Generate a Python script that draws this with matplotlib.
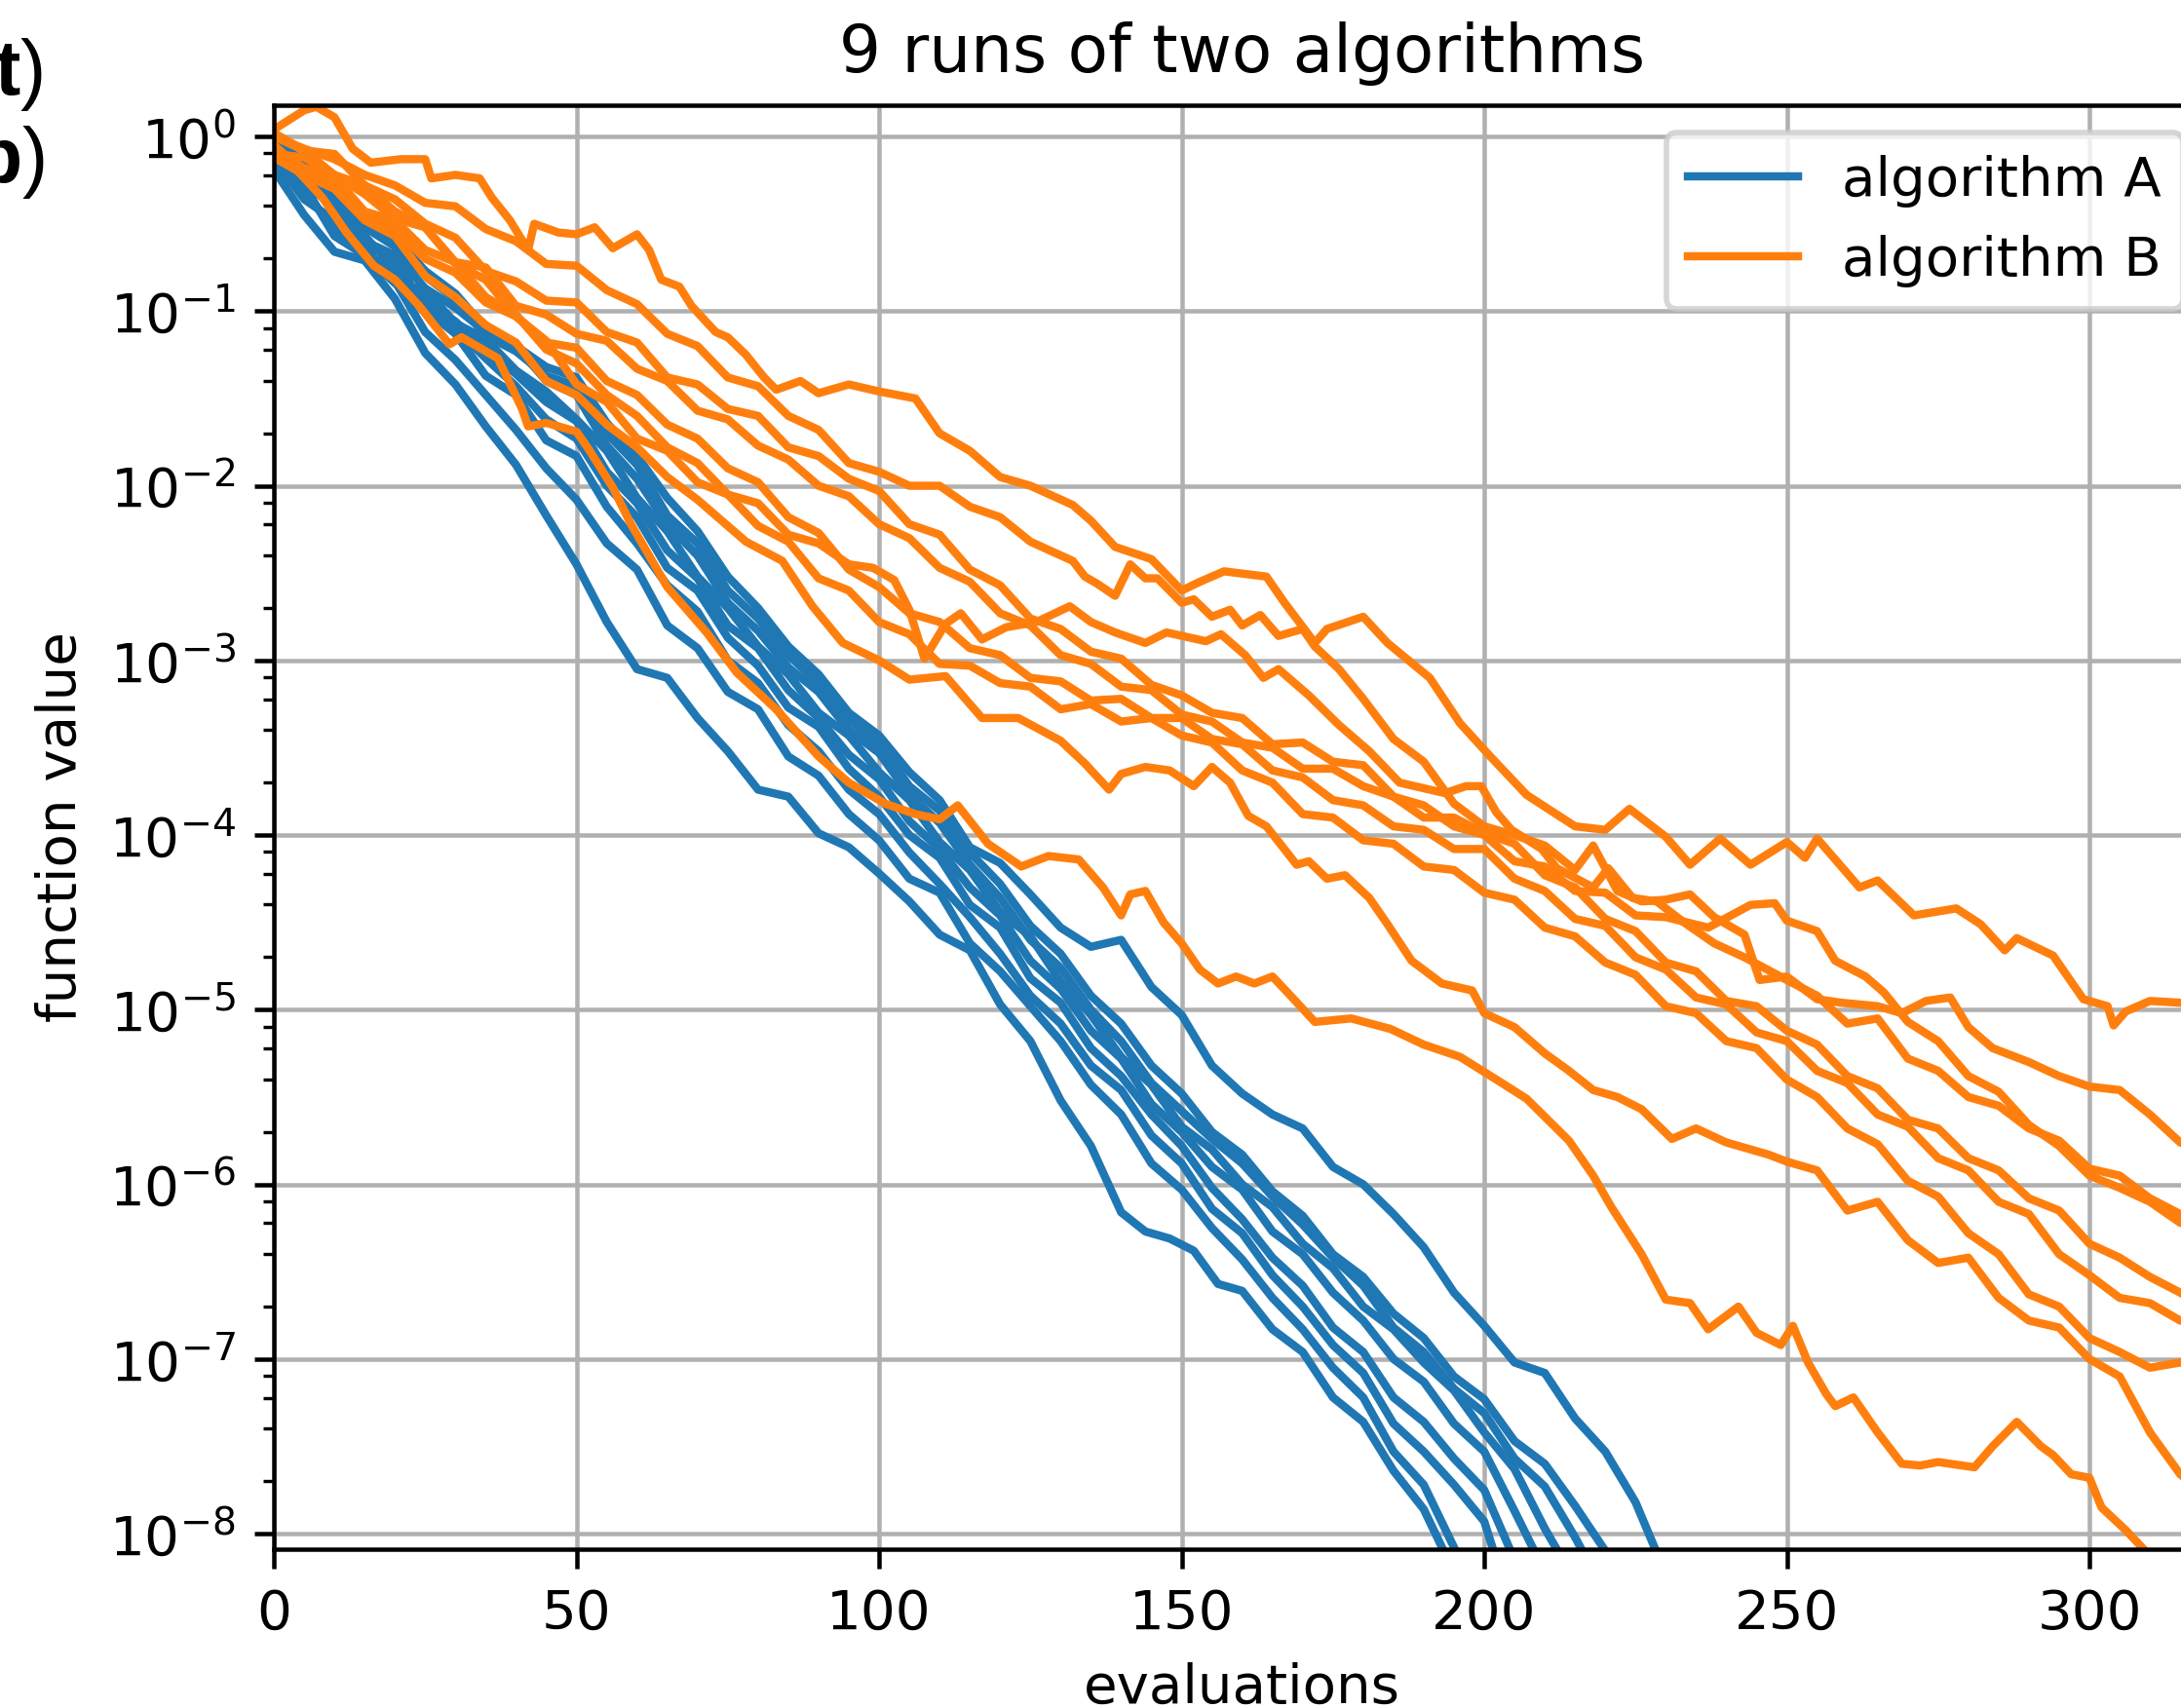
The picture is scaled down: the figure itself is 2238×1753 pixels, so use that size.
import numpy as np
import matplotlib.pyplot as plt
from matplotlib.ticker import LogLocator, NullFormatter

# runs of algorithm A (evaluations, log10 of function value)
a1_x = list(range(0, 141, 5)) + [144, 148, 152, 156] + list(range(160, 191, 5)) + [194]
a1_y = [-0.19, -0.45, -0.66, -0.71, -0.93, -1.24, -1.42, -1.66, -1.88, -2.17,
        -2.45, -2.78, -3.05, -3.1, -3.33, -3.52, -3.74, -3.78, -3.99, -4.07,
        -4.22, -4.38, -4.57, -4.66, -4.97, -5.18, -5.52, -5.78, -6.16, -6.27,
        -6.31, -6.38, -6.57, -6.61, -6.83, -6.96, -7.22, -7.36, -7.64, -7.86, -8.15]
a2_x = list(range(0, 191, 5)) + [196]
a2_y = [-0.1, -0.32, -0.52, -0.64, -0.83, -1.12, -1.28, -1.48, -1.68, -1.9,
        -2.08, -2.33, -2.48, -2.8, -2.93, -3.18, -3.28, -3.55, -3.66, -3.88,
        -4.03, -4.25, -4.33, -4.62, -4.78, -4.98, -5.18, -5.43, -5.6, -5.88,
        -6.03, -6.25, -6.43, -6.65, -6.83, -7.05, -7.22, -7.53, -7.72, -8.15]
a3_x = list(range(0, 201, 5)) + [202]
a3_y = [-0.05, -0.27, -0.4, -0.62, -0.7, -0.99, -1.13, -1.37, -1.48, -1.74,
        -1.83, -2.12, -2.33, -2.57, -2.72, -3.0, -3.13, -3.37, -3.52, -3.74,
        -3.88, -4.1, -4.28, -4.47, -4.68, -4.92, -5.08, -5.32, -5.46, -5.72,
        -5.88, -6.14, -6.28, -6.52, -6.7, -6.92, -7.08, -7.37, -7.53, -7.72,
        -7.93, -8.15]
a4_x = list(range(0, 206, 5))
a4_y = [-0.12, -0.36, -0.48, -0.67, -0.78, -0.97, -1.1, -1.27, -1.43, -1.62,
        -1.73, -2.0, -2.18, -2.47, -2.6, -2.87, -3.03, -3.27, -3.38, -3.62,
        -3.78, -4.0, -4.13, -4.4, -4.53, -4.82, -4.96, -5.22, -5.38, -5.6,
        -5.78, -6.02, -6.2, -6.42, -6.58, -6.82, -6.96, -7.22, -7.36, -7.57,
        -7.75, -8.15]
a5_x = list(range(0, 206, 5)) + [209]
a5_y = [-0.08, -0.22, -0.36, -0.57, -0.76, -0.94, -1.06, -1.22, -1.36, -1.52,
        -1.63, -1.92, -2.1, -2.37, -2.53, -2.8, -2.93, -3.17, -3.33, -3.54,
        -3.68, -3.92, -4.08, -4.3, -4.46, -4.72, -4.88, -5.12, -5.28, -5.54,
        -5.7, -5.9, -6.03, -6.27, -6.4, -6.62, -6.78, -7.0, -7.13, -7.37,
        -7.53, -7.87, -8.15]
a6_x = list(range(0, 211, 5)) + [213]
a6_y = [-0.15, -0.28, -0.57, -0.68, -0.84, -0.88, -1.07, -1.16, -1.34, -1.46,
        -1.62, -1.8, -2.07, -2.26, -2.52, -2.7, -2.92, -3.08, -3.3, -3.43,
        -3.64, -3.8, -4.04, -4.2, -4.44, -4.58, -4.84, -5.03, -5.27, -5.43,
        -5.67, -5.8, -6.0, -6.13, -6.34, -6.48, -6.7, -6.83, -7.02, -7.18,
        -7.42, -7.63, -7.97, -8.15]
a7_x = list(range(0, 216, 5)) + [217]
a7_y = [0.0, -0.2, -0.3, -0.5, -0.58, -0.77, -0.9, -1.1, -1.2, -1.4,
        -1.48, -1.77, -1.96, -2.22, -2.4, -2.67, -2.83, -3.04, -3.18, -3.4,
        -3.53, -3.77, -3.93, -4.17, -4.36, -4.6, -4.76, -5.0, -5.18, -5.42,
        -5.58, -5.74, -5.88, -6.07, -6.23, -6.42, -6.58, -6.82, -6.96, -7.17,
        -7.31, -7.57, -7.73, -8.02, -8.15]
a8_x = list(range(0, 216, 5)) + [221]
a8_y = [-0.03, -0.14, -0.33, -0.52, -0.63, -0.8, -0.93, -1.14, -1.23, -1.37,
        -1.43, -1.7, -1.88, -2.17, -2.33, -2.6, -2.76, -2.97, -3.13, -3.34,
        -3.48, -3.72, -3.86, -4.1, -4.28, -4.52, -4.68, -4.92, -5.08, -5.32,
        -5.48, -5.7, -5.83, -6.04, -6.18, -6.4, -6.53, -6.74, -6.88, -7.1,
        -7.23, -7.47, -7.6, -7.84, -8.15]
a9_x = list(range(0, 226, 5)) + [229]
a9_y = [-0.1, -0.27, -0.38, -0.6, -0.68, -0.87, -0.98, -1.12, -1.2, -1.32,
        -1.38, -1.64, -1.83, -2.07, -2.26, -2.52, -2.7, -2.92, -3.08, -3.3,
        -3.43, -3.64, -3.8, -4.07, -4.16, -4.34, -4.53, -4.64, -4.6, -4.87,
        -5.03, -5.32, -5.48, -5.6, -5.68, -5.9, -6.0, -6.17, -6.36, -6.62,
        -6.81, -7.02, -7.08, -7.34, -7.53, -7.82, -8.15]

# runs of algorithm B
b1_x = [0, 5, 7, 10, 13, 16, 21, 25, 26, 30, 34, 36, 39, 42, 43, 47, 50, 53, 56, 60,
        62, 64, 67, 69, 73, 75, 78, 81, 83, 87, 90, 95, 100, 106, 110, 115, 120, 125, 132, 135,
        139, 145, 150, 153, 157, 164, 167, 172, 174, 180, 184, 191, 196, 201, 207, 215, 220, 224, 230, 234,
        239, 244, 250, 253, 255, 262, 265, 271, 278, 282, 286, 288, 294, 299, 303, 304, 306, 310, 315, 320]
b1_y = [0.04, 0.15, 0.17, 0.11, -0.07, -0.15, -0.13, -0.13, -0.24, -0.22,
        -0.24, -0.35, -0.48, -0.65, -0.5, -0.55, -0.56, -0.52, -0.64, -0.56,
        -0.65, -0.82, -0.86, -0.97, -1.12, -1.15, -1.25, -1.38, -1.45, -1.4,
        -1.47, -1.42, -1.46, -1.5, -1.7, -1.8, -1.95, -2.0, -2.11, -2.2,
        -2.35, -2.42, -2.6, -2.55, -2.49, -2.52, -2.67, -2.9, -2.82, -2.75,
        -2.9, -3.1, -3.36, -3.55, -3.77, -3.95, -3.97, -3.85, -4.01, -4.17,
        -4.02, -4.17, -4.04, -4.13, -4.02, -4.3, -4.26, -4.46, -4.42, -4.51,
        -4.66, -4.59, -4.69, -4.94, -4.98, -5.09, -5.01, -4.95, -4.96, -4.98]
b2_x = list(range(0, 126, 5)) + [132, 134, 136, 139, 141.5, 144, 146, 150, 152, 155,
                                 158, 160, 163, 166, 170, 172, 176, 180, 185, 190,
                                 195, 200, 205, 210, 215, 218, 222, 226, 230, 234,
                                 238, 243, 245.5, 250, 255, 259, 265, 269, 273, 277,
                                 280, 284, 290, 295, 300, 305, 310, 315, 320]
b2_y = [0.0, -0.07, -0.13, -0.22, -0.28, -0.38, -0.4, -0.53, -0.6, -0.73,
        -0.74, -0.88, -0.96, -1.13, -1.2, -1.38, -1.43, -1.6, -1.68, -1.87,
        -1.92, -2.0, -2.0, -2.12, -2.18, -2.32,
        -2.43, -2.52, -2.56, -2.63, -2.45, -2.53, -2.53, -2.67, -2.65, -2.75,
        -2.71, -2.8, -2.74, -2.86, -2.82, -2.92, -3.05, -3.22, -3.45, -3.58,
        -3.82, -3.95, -4.0, -4.06, -4.2, -4.06, -4.32, -4.38, -4.37, -4.34,
        -4.47, -4.57, -4.83, -4.81, -4.94, -4.96, -4.98, -5.02, -4.95, -4.93,
        -5.1, -5.22, -5.3, -5.38, -5.44, -5.46, -5.6, -5.76, -5.82]
b3_x = list(range(0, 96, 5)) + [99, 102.5, 105, 107.5, 111, 113.5, 117, 121, 126, 131.5,
                                135, 139, 144, 147.5, 154, 156.5, 160.5, 163.5, 166, 171,
                                176, 181, 186, 191, 193.5, 197, 199.5, 202, 204.5, 209.5,
                                212, 218, 220.5, 224.5, 228.5, 233, 238, 243, 250, 255,
                                260, 265, 270, 275, 280, 285, 290, 295, 300, 305,
                                310, 315, 320]
b3_y = [-0.08, -0.18, -0.23, -0.43, -0.48, -0.65, -0.72, -0.92, -1.02, -1.22,
        -1.3, -1.48, -1.6, -1.78, -1.87, -2.05, -2.1, -2.28, -2.33, -2.45,
        -2.47, -2.54, -2.71, -2.99, -2.79, -2.73, -2.88, -2.81, -2.78, -2.69,
        -2.78, -2.84, -2.9, -2.84, -2.89, -2.85, -2.97, -3.1, -3.05, -3.2,
        -3.37, -3.52, -3.7, -3.74, -3.76, -3.72, -3.72, -3.87, -3.97, -4.08,
        -4.19, -4.3, -4.19, -4.36, -4.38, -4.5, -4.62, -4.7, -4.83, -4.92,
        -5.08, -5.05, -5.28, -5.35, -5.5, -5.55, -5.68, -5.75, -5.91, -5.95,
        -6.08, -6.17, -6.22]
b4_x = list(range(0, 231, 5)) + [237, 244, 248, 250, 255, 258, 263, 266, 270, 275,
                                 280, 285, 290, 295, 300, 305, 310, 315, 320]
b4_y = [0.02, -0.08, -0.1, -0.28, -0.36, -0.5, -0.58, -0.77, -0.83, -0.94,
        -0.95, -1.12, -1.18, -1.38, -1.42, -1.56, -1.6, -1.78, -1.83, -1.96,
        -2.03, -2.22, -2.28, -2.48, -2.57, -2.76, -2.82, -2.95, -2.99, -3.14,
        -3.2, -3.3, -3.33, -3.48, -3.47, -3.58, -3.6, -3.78, -3.83, -3.95,
        -4.0, -4.15, -4.18, -4.32, -4.33, -4.46, -4.47,
        -4.53, -4.4, -4.39, -4.49, -4.55, -4.72, -4.81, -4.9, -5.07, -5.18,
        -5.38, -5.47, -5.66, -5.78, -5.95, -6.02, -6.1, -6.22, -6.25]
b5_x = list(range(0, 321, 5))
b5_y = [-0.1, -0.12, -0.22, -0.33, -0.47, -0.52, -0.72, -0.75, -0.97, -1.02,
        -1.13, -1.17, -1.33, -1.4, -1.57, -1.62, -1.77, -1.85, -2.0, -2.06,
        -2.22, -2.3, -2.47, -2.55, -2.73, -2.8, -2.97, -3.02, -3.15, -3.17,
        -3.31, -3.35, -3.47, -3.5, -3.62, -3.62, -3.72, -3.78, -3.9, -3.9,
        -3.99, -4.05, -4.23, -4.3, -4.48, -4.55, -4.73, -4.78, -4.95, -4.98,
        -5.12, -5.2, -5.38, -5.45, -5.63, -5.68, -5.85, -5.92, -6.08, -6.15,
        -6.34, -6.42, -6.53, -6.62, -6.72]
b6_x = list(range(0, 321, 5))
b6_y = [-0.05, -0.2, -0.28, -0.45, -0.53, -0.7, -0.78, -0.95, -1.03, -1.18,
        -1.21, -1.4, -1.48, -1.65, -1.73, -1.9, -1.98, -2.18, -2.27, -2.48,
        -2.58, -2.73, -2.78, -2.93, -2.97, -3.1, -3.12, -3.23, -3.22, -3.33,
        -3.33, -3.45, -3.48, -3.63, -3.67, -3.8, -3.83, -3.95, -3.97, -4.08,
        -4.08, -4.25, -4.32, -4.48, -4.52, -4.7, -4.77, -4.93, -4.97, -5.13,
        -5.18, -5.35, -5.42, -5.6, -5.67, -5.85, -5.92, -6.1, -6.17, -6.4,
        -6.52, -6.65, -6.68, -6.78, -6.8]
b7_x = list(range(0, 321, 5))
b7_y = [0.0, -0.08, -0.22, -0.28, -0.43, -0.52, -0.73, -0.82, -1.03, -1.17,
        -1.42, -1.52, -1.73, -1.8, -1.98, -2.05, -2.23, -2.32, -2.53, -2.6,
        -2.78, -2.85, -3.02, -3.03, -3.13, -3.15, -3.28, -3.25, -3.35, -3.33,
        -3.43, -3.47, -3.63, -3.7, -3.88, -3.9, -4.03, -4.05, -4.18, -4.2,
        -4.33, -4.37, -4.53, -4.58, -4.73, -4.8, -4.98, -5.02, -5.18, -5.22,
        -5.4, -5.5, -5.68, -5.77, -5.98, -6.07, -6.28, -6.4, -6.63, -6.7,
        -6.88, -6.96, -7.05, -7.02, -7.05]
b8_x = [0, 5, 10, 15, 20, 25, 30, 35, 40, 45, 50, 55, 60, 65, 70, 74, 78, 84, 89, 94,
        100, 105, 111, 117, 123, 130, 134, 138, 140, 144, 148, 152, 155, 158, 161, 164, 169, 171, 174, 177,
        181, 184, 188, 193, 198, 200, 205, 210, 214, 218, 222, 226, 231, 235, 240, 247, 250, 255, 260, 265,
        270, 275, 280, 285, 290, 295, 300, 305, 310, 315, 320]
b8_y = [-0.12, -0.22, -0.3, -0.48, -0.57, -0.8, -0.92, -1.08, -1.18, -1.4,
        -1.48, -1.65, -1.78, -1.95, -2.08, -2.2, -2.32, -2.43, -2.69, -2.9,
        -3.0, -3.11, -3.09, -3.33, -3.33, -3.46, -3.59, -3.74, -3.65, -3.61,
        -3.63, -3.72, -3.61, -3.7, -3.89, -3.95, -4.17, -4.15, -4.25, -4.23,
        -4.36, -4.51, -4.72, -4.85, -4.89, -5.02, -5.1, -5.25, -5.35, -5.46,
        -5.5, -5.57, -5.74, -5.68, -5.76, -5.83, -5.87, -5.92, -6.15, -6.1,
        -6.32, -6.45, -6.42, -6.65, -6.78, -6.82, -7.0, -7.1, -7.42, -7.66,
        -7.8]
b9_x = [0, 4, 8, 12, 16.5, 20, 24, 29, 31, 37, 41, 42, 45, 50, 52, 56, 59, 65, 71.5, 76.5,
        83, 90, 95, 101, 106, 110, 113, 118, 123.5, 128, 133, 137, 140, 141.5, 144, 147, 150, 153, 156, 159,
        162, 165, 168, 172, 178, 184.5, 190, 196, 202, 207, 214, 218, 221, 226, 230, 234, 237, 242, 245, 249,
        251, 253.5, 256.5, 258, 261, 265, 269, 272, 275, 281, 284, 288, 292, 294, 297, 300, 302, 306, 309, 311]
b9_y = [-0.05, -0.2, -0.35, -0.55, -0.74, -0.82, -0.97, -1.19, -1.15, -1.27,
        -1.56, -1.66, -1.64, -1.69, -1.79, -2.01, -2.22, -2.58, -2.84, -3.07,
        -3.28, -3.55, -3.7, -3.82, -3.88, -3.91, -3.83, -4.05, -4.18, -4.12,
        -4.14, -4.3, -4.46, -4.34, -4.32, -4.5, -4.62, -4.77, -4.85, -4.81,
        -4.85, -4.81, -4.92, -5.07, -5.05, -5.11, -5.2, -5.27, -5.4, -5.51,
        -5.75, -5.95, -6.13, -6.4, -6.66, -6.68, -6.83, -6.7, -6.85, -6.92,
        -6.81, -7.02, -7.2, -7.27, -7.22, -7.42, -7.6, -7.61, -7.59, -7.62,
        -7.5, -7.36, -7.5, -7.55, -7.66, -7.68, -7.85, -7.98, -8.09, -8.2]

runs_a = [(a1_x, a1_y), (a2_x, a2_y), (a3_x, a3_y), (a4_x, a4_y), (a5_x, a5_y),
          (a6_x, a6_y), (a7_x, a7_y), (a8_x, a8_y), (a9_x, a9_y)]
runs_b = [(b1_x, b1_y), (b2_x, b2_y), (b3_x, b3_y), (b4_x, b4_y), (b5_x, b5_y),
          (b6_x, b6_y), (b7_x, b7_y), (b8_x, b8_y), (b9_x, b9_y)]

DPI = 405
fig = plt.figure(figsize=(2238 / DPI, 1753 / DPI), dpi=DPI)
# the axes run past the right border of the picture, as in the cropped original
ax = fig.add_axes([0.1256, 0.093, 0.8879, 0.8454])

for i, (x, y) in enumerate(runs_a):
    ax.plot(x, 10.0 ** np.array(y), color='C0', lw=1.5,
            label='algorithm A' if i == 0 else '_nolegend_')
for i, (x, y) in enumerate(runs_b):
    ax.plot(x, 10.0 ** np.array(y), color='C1', lw=1.5,
            label='algorithm B' if i == 0 else '_nolegend_')

ax.set_yscale('log')
ax.set_xlim(0, 320)
ax.set_ylim(8.15e-9, 1.51)
ax.yaxis.set_major_locator(LogLocator(base=10, numticks=20))
ax.yaxis.set_minor_locator(LogLocator(base=10, subs=(2, 4, 6, 8), numticks=50))
ax.yaxis.set_minor_formatter(NullFormatter())
ax.set_xticks([0, 50, 100, 150, 200, 250, 300])
ax.grid(True)

ax.set_title('9 runs of two algorithms')
ax.set_xlabel('evaluations')
ax.set_ylabel('function value')
ax.legend(loc='upper right')

# panel labels cut by the left border
fig.text(21 / 2238, 1 - 97 / 1753, 't', ha='right', va='baseline',
         fontsize=14, fontweight='bold', family='Liberation Sans')
fig.text(21 / 2238, 1 - 97 / 1753, ')', ha='left', va='baseline',
         fontsize=14, family='Liberation Sans')
fig.text(23 / 2238, 1 - 187 / 1753, 'b', ha='right', va='baseline',
         fontsize=14, fontweight='bold', family='Liberation Sans')
fig.text(23 / 2238, 1 - 187 / 1753, ')', ha='left', va='baseline',
         fontsize=14, family='Liberation Sans')

fig.savefig('out.png', dpi=DPI)
